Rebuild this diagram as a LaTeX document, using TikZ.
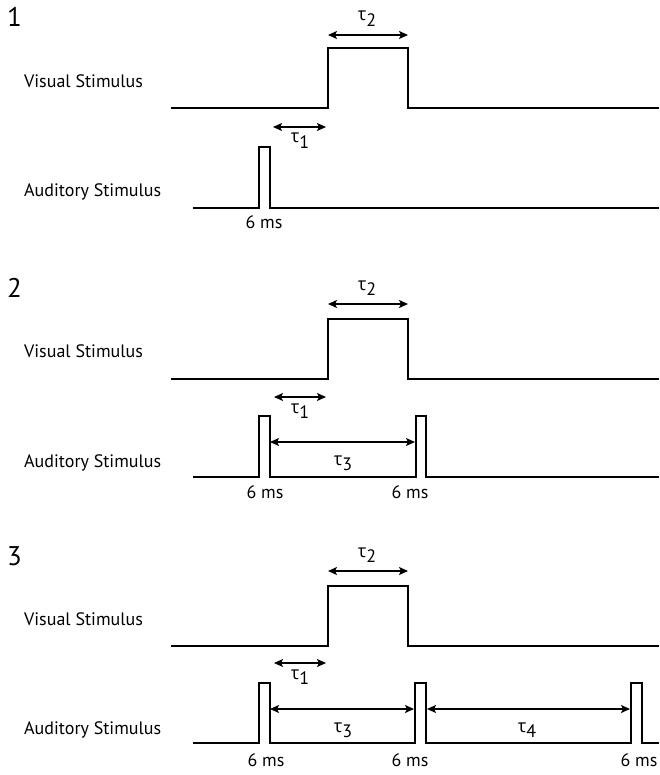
\documentclass[tikz,border=0pt]{standalone}
\usepackage{fontspec}
\setmainfont{PT Sans}
\newfontfamily\grk{Open Sans}
\usetikzlibrary{arrows.meta}
% time-constant label: Greek letter with a lowered index
\newcommand\tsub[2]{{\grk #1}\raisebox{-5.5pt}{#2}}

\begin{document}
\begin{tikzpicture}[x=1pt,y=-1pt,
  wave/.style={line width=1.6pt, line join=miter},
  span/.style={line width=1.4pt,
    {Stealth[length=9pt,width=8pt,inset=2pt]}-{Stealth[length=9pt,width=8pt,inset=2pt]}},
  txt/.style={font=\fontsize{18}{21}\selectfont, inner sep=0pt},
  lbl/.style={txt, anchor=base west},
  num/.style={font=\fontsize{27}{31}\selectfont, anchor=base west, inner sep=0pt},
  tau/.style={txt, anchor=base},
  ms/.style={txt, anchor=base}]
\useasboundingbox (0,0) rectangle (659,775);

% ---------------- condition 1 ----------------
\node[num] (n1) at (7,27) {1};
\node[lbl] (v1) at (24,88) {Visual Stimulus};
\node[lbl] (a1) at (24,197) {Auditory Stimulus};
\draw[wave] (171,108) -| (328,48) -| (408,108) -- (659,108);
\draw[wave] (193,208) -| (259,147) -| (270,208) -- (659,208);
\coordinate (p1t2a) at (328,35);  \coordinate (p1t2b) at (408,35);
\coordinate (p1t1a) at (273,127); \coordinate (p1t1b) at (326,127);
\draw[span] (p1t2a) -- (p1t2b);
\draw[span] (p1t1a) -- (p1t1b);
\node[tau] (p1l2) at (367,21) {\tsub{τ}{2}};
\node[tau] (p1l1) at (300,143) {\tsub{τ}{1}};
\node[ms] (p1m1) at (264,229) {6 ms};

% ---------------- condition 2 ----------------
\node[num] (n2) at (7,297) {2};
\node[lbl] (v2) at (24,357) {Visual Stimulus};
\node[lbl] (a2) at (24,467) {Auditory Stimulus};
\draw[wave] (171,379) -| (328,319) -| (408,379) -- (659,379);
\draw[wave] (193,477) -| (259,416) -| (270,477) -| (416,416) -| (426,477) -- (659,477);
\coordinate (p2t2a) at (328,304); \coordinate (p2t2b) at (408,304);
\coordinate (p2t1a) at (274,397); \coordinate (p2t1b) at (326,397);
\coordinate (p2t3a) at (270,442); \coordinate (p2t3b) at (415,442);
\draw[span] (p2t2a) -- (p2t2b);
\draw[span] (p2t1a) -- (p2t1b);
\draw[span] (p2t3a) -- (p2t3b);
\node[tau] (p2l2) at (367,290) {\tsub{τ}{2}};
\node[tau] (p2l1) at (300,413) {\tsub{τ}{1}};
\node[tau] (p2l3) at (343,465) {\tsub{τ}{3}};
\node[ms] (p2m1) at (265,498) {6 ms};
\node[ms] (p2m2) at (410,498) {6 ms};

% ---------------- condition 3 ----------------
\node[num] (n3) at (7,565) {3};
\node[lbl] (v3) at (24,625) {Visual Stimulus};
\node[lbl] (a3) at (24,734) {Auditory Stimulus};
\draw[wave] (171,646) -| (328,586) -| (408,646) -- (659,646);
\draw[wave] (193,743) -| (259,683) -| (270,743) -| (415,683) -| (426,743)
  -| (631,683) -| (642,743) -- (659,743);
\coordinate (p3t2a) at (328,571); \coordinate (p3t2b) at (408,571);
\coordinate (p3t1a) at (274,663); \coordinate (p3t1b) at (326,663);
\coordinate (p3t3a) at (270,709); \coordinate (p3t3b) at (414,709);
\coordinate (p3t4a) at (427,709); \coordinate (p3t4b) at (630,709);
\draw[span] (p3t2a) -- (p3t2b);
\draw[span] (p3t1a) -- (p3t1b);
\draw[span] (p3t3a) -- (p3t3b);
\draw[span] (p3t4a) -- (p3t4b);
\node[tau] (p3l2) at (367,557) {\tsub{τ}{2}};
\node[tau] (p3l1) at (300,679) {\tsub{τ}{1}};
\node[tau] (p3l3) at (343,732) {\tsub{τ}{3}};
\node[tau] (p3l4) at (527,732) {\tsub{τ}{4}};
\node[ms] (p3m1) at (266,766) {6 ms};
\node[ms] (p3m2) at (410,766) {6 ms};
\node[ms] (p3m3) at (639,766) {6 ms};
\end{tikzpicture}
\end{document}
